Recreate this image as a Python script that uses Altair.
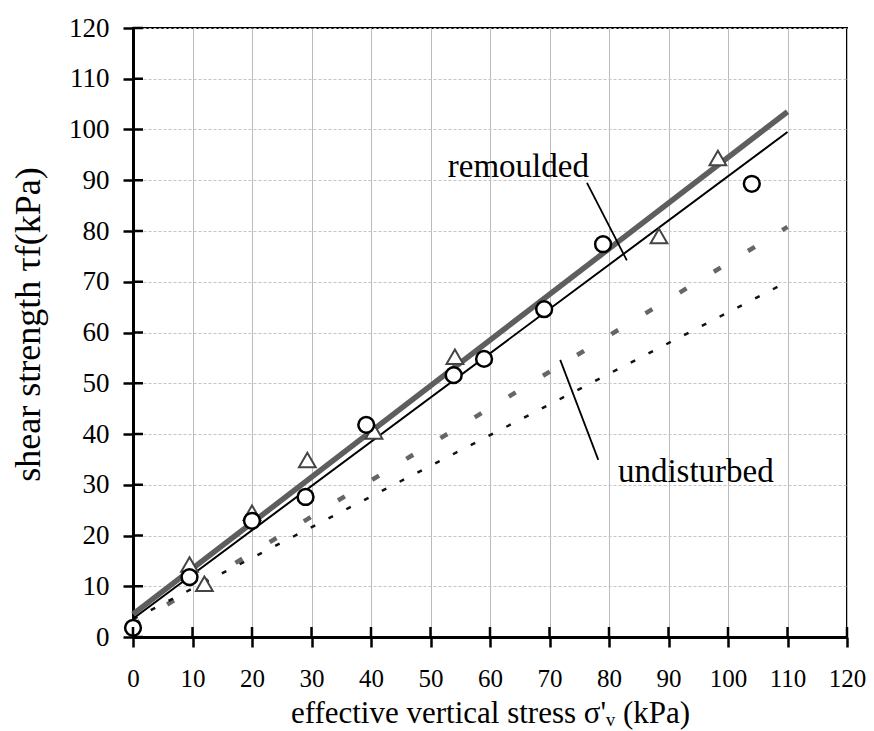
import altair as alt
import pandas as pd

# ---- data ----
circle_x = [0, 9.5, 20, 29, 39.2, 53.9, 59, 69.1, 79, 104]
circle_y = [1.8, 11.8, 22.9, 27.6, 41.8, 51.6, 54.8, 64.6, 77.4, 89.3]
tri_x = [9.5, 12, 20, 29.3, 40.5, 54.1, 88.4, 98.3]
tri_y = [14.3, 10.5, 24.5, 34.9, 40.5, 55.2, 79.0, 94.4]

line_x = [0, 110]
rem_thick_y = [4.5, 103.5]
rem_thin_y = [3.6, 99.5]
und_dash_y = [2.3, 80.8]
und_dot_y = [3.5, 70.0]

ptr_rem_x = [76.3, 83.0]
ptr_rem_y = [89.5, 74.2]
ptr_und_x = [71.8, 78.2]
ptr_und_y = [54.6, 34.9]

label_text = ["remoulded", "undisturbed"]
label_x = [52.9, 81.5]
label_y = [92.6, 32.5]

tick_values = list(range(0, 121, 10))

FONT = "Liberation Serif"

circles = pd.DataFrame({"x": circle_x, "y": circle_y})
tris = pd.DataFrame({"x": tri_x, "y": tri_y})
lines = pd.DataFrame({
    "x": line_x * 4,
    "y": rem_thick_y + rem_thin_y + und_dash_y + und_dot_y,
    "s": ["rem_thick"] * 2 + ["rem_thin"] * 2 + ["und_dash"] * 2 + ["und_dot"] * 2,
})
ptrs = pd.DataFrame({
    "x": ptr_rem_x + ptr_und_x,
    "y": ptr_rem_y + ptr_und_y,
    "s": ["rem"] * 2 + ["und"] * 2,
})
labels = pd.DataFrame({"x": label_x, "y": label_y, "t": label_text})
ticks_df = pd.DataFrame({"v": tick_values})

xscale = alt.Scale(domain=[0, 120], nice=False, zero=True)
yscale = alt.Scale(domain=[0, 120], nice=False, zero=True)

xaxis = alt.Axis(
    values=tick_values, title="effective vertical stress σ'ᵥ (kPa)",
    labelFont=FONT, labelFontSize=25, labelColor="black",
    labelBaseline="alphabetic", labelPadding=39, labelAlign="center",
    labelFlush=False, labelOverlap=False, labelBound=False,
    tickColor="black", tickWidth=2.5, tickSize=10,
    domainColor="black", domainWidth=3,
    grid=True, gridColor="#bbbbbb", gridWidth=1,
    titleFont=FONT, titleFontSize=31, titleFontWeight="normal", titleColor="black",
    titleBaseline="alphabetic", titleY=85,
)
yaxis = alt.Axis(
    values=tick_values, title="shear strength τf(kPa)",
    labelFont=FONT, labelFontSize=27, labelColor="black", labelPadding=14,
    labelFlush=False, labelOverlap=False, labelBound=False,
    tickColor="black", tickWidth=2.5, tickSize=10,
    domainColor="black", domainWidth=3,
    grid=True, gridColor="#c4c4c4", gridWidth=1, gridDash=[3, 2],
    titleFont=FONT, titleFontSize=36, titleFontWeight="normal", titleColor="black",
    titleAngle=-90, titleBaseline="middle", titleAlign="center",
    titleX=-105, titleY=296,
)


def line_layer(name, color, width, dash=None):
    kw = dict(color=color, strokeWidth=width, strokeCap="butt")
    if dash is not None:
        kw["strokeDash"] = dash
    return alt.Chart(lines).transform_filter(alt.datum.s == name).mark_line(**kw).encode(
        x=alt.X("x:Q", scale=xscale, axis=xaxis),
        y=alt.Y("y:Q", scale=yscale, axis=yaxis),
    )


und_dash = line_layer("und_dash", "#666666", 4.5, [8, 32])
und_dot = line_layer("und_dot", "#111111", 2.5, [5, 15])
rem_thick = line_layer("rem_thick", "#5e5e5e", 5.5)
rem_thin = line_layer("rem_thin", "black", 2)

ptr_layer = alt.Chart(ptrs).mark_line(color="black", strokeWidth=1.8).encode(
    x=alt.X("x:Q", scale=xscale), y=alt.Y("y:Q", scale=yscale), detail="s:N"
)

tri_layer = alt.Chart(tris).mark_point(
    shape="triangle-up", size=280, filled=True, fill="white", stroke="#444444",
    strokeWidth=2, opacity=1,
).encode(x=alt.X("x:Q", scale=xscale), y=alt.Y("y:Q", scale=yscale))

circ_layer = alt.Chart(circles).mark_point(
    shape="circle", size=250, filled=True, fill="white", stroke="black",
    strokeWidth=2.5, opacity=1,
).encode(x=alt.X("x:Q", scale=xscale), y=alt.Y("y:Q", scale=yscale))

text_layer = alt.Chart(labels).mark_text(
    font=FONT, fontSize=33, align="left", baseline="middle", color="black"
).encode(x=alt.X("x:Q", scale=xscale), y=alt.Y("y:Q", scale=yscale), text="t:N")

# inner halves of the tick marks (crossing ticks)
ytick_in = alt.Chart(ticks_df).mark_rule(color="black", strokeWidth=2.5).encode(
    y=alt.Y("v:Q", scale=yscale), x=alt.value(0), x2=alt.value(10)
)
xtick_in = alt.Chart(ticks_df).mark_rule(color="black", strokeWidth=2.5).encode(
    x=alt.X("v:Q", scale=xscale), y=alt.value(609), y2=alt.value(599)
)

chart = alt.layer(
    und_dash, und_dot, rem_thick, rem_thin, ptr_layer,
    tri_layer, circ_layer, text_layer, ytick_in, xtick_in,
).properties(
    width=714, height=609,
    autosize=alt.AutoSizeParams(type="none"),
    padding={"left": 133, "top": 28, "right": 27, "bottom": 94},
    background="white",
).configure_view(stroke="black", strokeWidth=2)

chart.save("out.html", embed_options={"renderer": "svg", "actions": False})
